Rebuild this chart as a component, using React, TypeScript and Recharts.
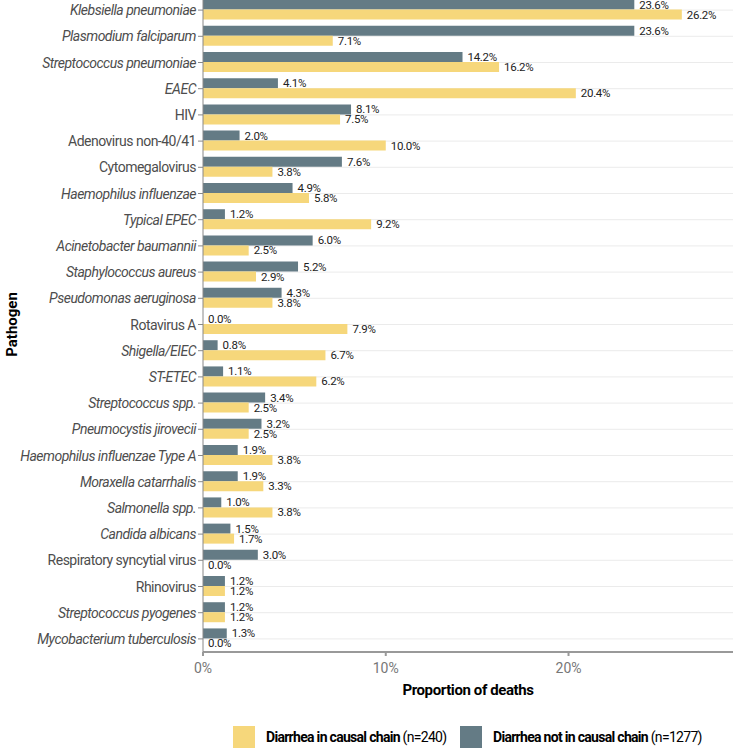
import { Bar, BarChart, CartesianGrid, LabelList, XAxis, YAxis } from "recharts"

const pathogens = [
  "Klebsiella pneumoniae",
  "Plasmodium falciparum",
  "Streptococcus pneumoniae",
  "EAEC",
  "HIV",
  "Adenovirus non-40/41",
  "Cytomegalovirus",
  "Haemophilus influenzae",
  "Typical EPEC",
  "Acinetobacter baumannii",
  "Staphylococcus aureus",
  "Pseudomonas aeruginosa",
  "Rotavirus A",
  "Shigella/EIEC",
  "ST-ETEC",
  "Streptococcus spp.",
  "Pneumocystis jirovecii",
  "Haemophilus influenzae Type A",
  "Moraxella catarrhalis",
  "Salmonella spp.",
  "Candida albicans",
  "Respiratory syncytial virus",
  "Rhinovirus",
  "Streptococcus pyogenes",
  "Mycobacterium tuberculosis",
]

// proportion of deaths, %
const notInChain = [23.6, 23.6, 14.2, 4.1, 8.1, 2.0, 7.6, 4.9, 1.2, 6.0, 5.2, 4.3, 0.0, 0.8, 1.1, 3.4, 3.2, 1.9, 1.9, 1.0, 1.5, 3.0, 1.2, 1.2, 1.3]
const inChain = [26.2, 7.1, 16.2, 20.4, 7.5, 10.0, 3.8, 5.8, 9.2, 2.5, 2.9, 3.8, 7.9, 6.7, 6.2, 2.5, 2.5, 3.8, 3.3, 3.8, 1.7, 0.0, 1.2, 1.2, 0.0]

const upright = ["HIV", "Adenovirus non-40/41", "Cytomegalovirus", "Rotavirus A", "Respiratory syncytial virus", "Rhinovirus"]

const xTicks = [0, 10, 20]

const YELLOW = "#f6d77b"
const GREY = "#647b85"
const FONT = "Roboto, sans-serif"

const data = pathogens.map((name, i) => ({ name, notIn: notInChain[i], inC: inChain[i] }))

function PathogenTick({ x, y, payload }: any) {
  const italic = !upright.includes(payload.value)
  return (
    <text
      x={x}
      y={y}
      dy={5}
      textAnchor="end"
      fontSize={14}
      fill="#4d4d4d"
      fontStyle={italic ? "italic" : "normal"}
      style={{ fontFamily: FONT, letterSpacing: "-0.5px" }}
    >
      {payload.value}
    </text>
  )
}

function ValueLabel({ x, y, width, height, value }: any) {
  return (
    <text
      x={Number(x) + Number(width || 0) + 5}
      y={Number(y) + Number(height) / 2 + 4}
      fontSize={11.5}
      fill="#222"
      style={{ fontFamily: FONT, letterSpacing: "-0.3px" }}
    >
      {`${Number(value).toFixed(1)}%`}
    </text>
  )
}

// keep zero-valued bars in the label list (a zero-size bar is otherwise dropped)
const keepZero = (v: any) => (Number(v) === 0 ? 0.01 : 0)

export default function App() {
  return (
    <div style={{ position: "absolute", left: 0, top: -3, width: 733, height: 751, background: "#fff", fontFamily: FONT }}>
      <BarChart
        width={733}
        height={751}
        data={data}
        layout="vertical"
        margin={{ top: 0, right: 0, bottom: 0, left: 0 }}
        barCategoryGap="10%"
        barGap={0}
      >
        <CartesianGrid vertical={false} stroke="#ebebeb" />
        <XAxis
          type="number"
          domain={[0, 29]}
          ticks={xTicks}
          allowDataOverflow
          tickFormatter={(v) => `${v}%`}
          height={96}
          stroke="#999"
          strokeWidth={2}
          tickSize={4}
          tick={{ fontSize: 14, fill: "#777", fontFamily: FONT, dy: 5 }}
          label={({ viewBox }: any) => (
            <text
              x={viewBox.x + viewBox.width / 2}
              y={viewBox.y + 43}
              textAnchor="middle"
              fontSize={15}
              fontWeight="bold"
              fill="#000"
              style={{ fontFamily: FONT, letterSpacing: "-0.4px" }}
            >
              Proportion of deaths
            </text>
          )}
        />
        <YAxis
          type="category"
          dataKey="name"
          width={203}
          stroke="#888"
          tickSize={5}
          tick={<PathogenTick />}
          interval={0}
          label={({ viewBox }: any) => (
            <text
              x={17}
              y={viewBox.y + viewBox.height / 2}
              transform={`rotate(-90, 17, ${viewBox.y + viewBox.height / 2})`}
              textAnchor="middle"
              fontSize={15}
              fontWeight="bold"
              fill="#000"
              style={{ fontFamily: FONT }}
            >
              Pathogen
            </text>
          )}
        />
        <Bar dataKey="notIn" fill={GREY} isAnimationActive={false} minPointSize={keepZero}>
          <LabelList dataKey="notIn" content={<ValueLabel />} />
        </Bar>
        <Bar dataKey="inC" fill={YELLOW} isAnimationActive={false} minPointSize={keepZero}>
          <LabelList dataKey="inC" content={<ValueLabel />} />
        </Bar>
      </BarChart>
      <div style={{ position: "absolute", left: 233, top: 729, width: 22, height: 22, background: YELLOW }} />
      <div style={{ position: "absolute", left: 266, top: 729, height: 22, lineHeight: "22px", fontSize: 14, letterSpacing: "-0.7px", whiteSpace: "nowrap" }}>
        <b>Diarrhea in causal chain</b> (n=240)
      </div>
      <div style={{ position: "absolute", left: 460, top: 729, width: 22, height: 22, background: GREY }} />
      <div style={{ position: "absolute", left: 493, top: 729, height: 22, lineHeight: "22px", fontSize: 14, letterSpacing: "-0.7px", whiteSpace: "nowrap" }}>
        <b>Diarrhea not in causal chain</b> (n=1277)
      </div>
    </div>
  )
}
